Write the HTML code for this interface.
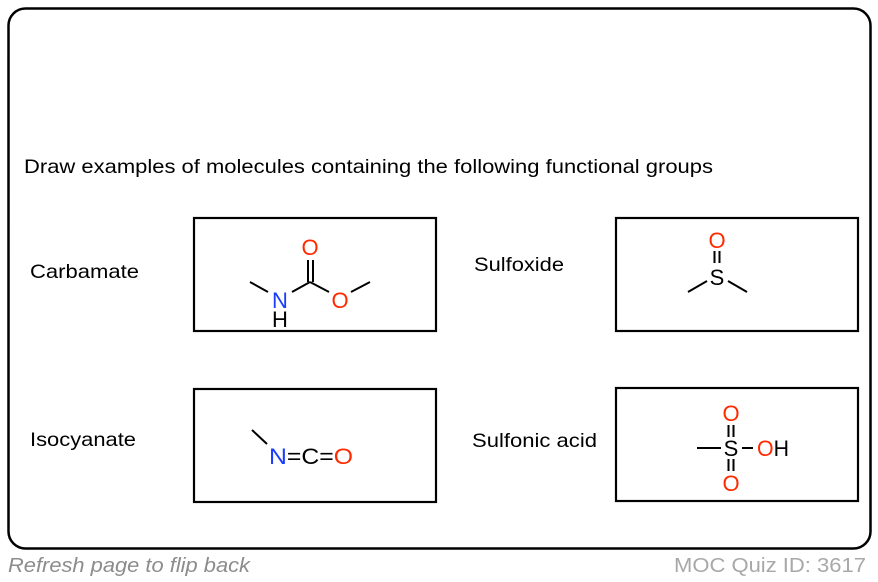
<!DOCTYPE html>
<html><head><style>html,body{margin:0;padding:0;background:#fff}svg{display:block}text{font-family:"Liberation Sans",Arial,sans-serif}</style></head>
<body>
<svg width="878" height="582" viewBox="0 0 878 582" xmlns="http://www.w3.org/2000/svg">
<rect x="8.5" y="8.5" width="862" height="540" rx="17" fill="#fff" stroke="#000" stroke-width="2.5"/>
<text x="24" y="173" font-size="19.5" textLength="689" lengthAdjust="spacingAndGlyphs">Draw examples of molecules containing the following functional groups</text>
<text x="30" y="278" font-size="19.5" textLength="109" lengthAdjust="spacingAndGlyphs">Carbamate</text>
<text x="474" y="271" font-size="19.5" textLength="90" lengthAdjust="spacingAndGlyphs">Sulfoxide</text>
<text x="30" y="446" font-size="19.5" textLength="106" lengthAdjust="spacingAndGlyphs">Isocyanate</text>
<text x="472" y="447" font-size="19.5" textLength="125" lengthAdjust="spacingAndGlyphs">Sulfonic acid</text>
<g fill="none" stroke="#000" stroke-width="2.2">
<rect x="194" y="218" width="242" height="113"/>
<rect x="616" y="218" width="242" height="113"/>
<rect x="194" y="389" width="242" height="113"/>
<rect x="616" y="388" width="242" height="113"/>
</g>
<g stroke="#000" stroke-width="2" fill="none">
<line x1="250" y1="282" x2="268" y2="292"/>
<line x1="292" y1="292" x2="310" y2="282"/>
<line x1="310" y1="282" x2="329" y2="292"/>
<line x1="351" y1="292" x2="370" y2="282"/>
<line x1="308" y1="282" x2="308" y2="260"/>
<line x1="313" y1="282" x2="313" y2="260"/>
<line x1="688" y1="292" x2="707" y2="281"/>
<line x1="728" y1="281" x2="747" y2="292"/>
<line x1="714.5" y1="251" x2="714.5" y2="263"/>
<line x1="719.5" y1="251" x2="719.5" y2="263"/>
<line x1="252" y1="430" x2="267" y2="444"/>
<line x1="697" y1="448" x2="721" y2="448"/>
<line x1="742" y1="448" x2="753" y2="448"/>
<line x1="728.5" y1="425" x2="728.5" y2="437"/>
<line x1="733.5" y1="425" x2="733.5" y2="437"/>
<line x1="728.5" y1="459" x2="728.5" y2="471"/>
<line x1="733.5" y1="459" x2="733.5" y2="471"/>
</g>
<g font-size="22" text-anchor="middle">
<text x="280" y="308" fill="#1a3cff">N</text>
<text x="280" y="327" fill="#000">H</text>
<text x="340" y="308" fill="#ff2a00">O</text>
<text x="310" y="255" fill="#ff2a00">O</text>
<text x="717" y="285" fill="#000">S</text>
<text x="717" y="248" fill="#ff2a00">O</text>
<text x="731" y="456" fill="#000">S</text>
<text x="731" y="421" fill="#ff2a00">O</text>
<text x="731" y="491" fill="#ff2a00">O</text>
</g>
<text x="757" y="456" font-size="22" textLength="32" lengthAdjust="spacingAndGlyphs"><tspan fill="#ff2a00">O</tspan><tspan fill="#000">H</tspan></text>
<text x="269" y="464" font-size="22" textLength="84" lengthAdjust="spacingAndGlyphs"><tspan fill="#1a3cff">N</tspan><tspan fill="#000">=C=</tspan><tspan fill="#ff2a00">O</tspan></text>
<text x="8" y="572" font-size="20" font-style="italic" fill="#8c8c8c" textLength="242" lengthAdjust="spacingAndGlyphs">Refresh page to flip back</text>
<text x="866" y="572" font-size="20" fill="#a8a8a8" text-anchor="end" textLength="192" lengthAdjust="spacingAndGlyphs">MOC Quiz ID: 3617</text>
</svg>
</body></html>
